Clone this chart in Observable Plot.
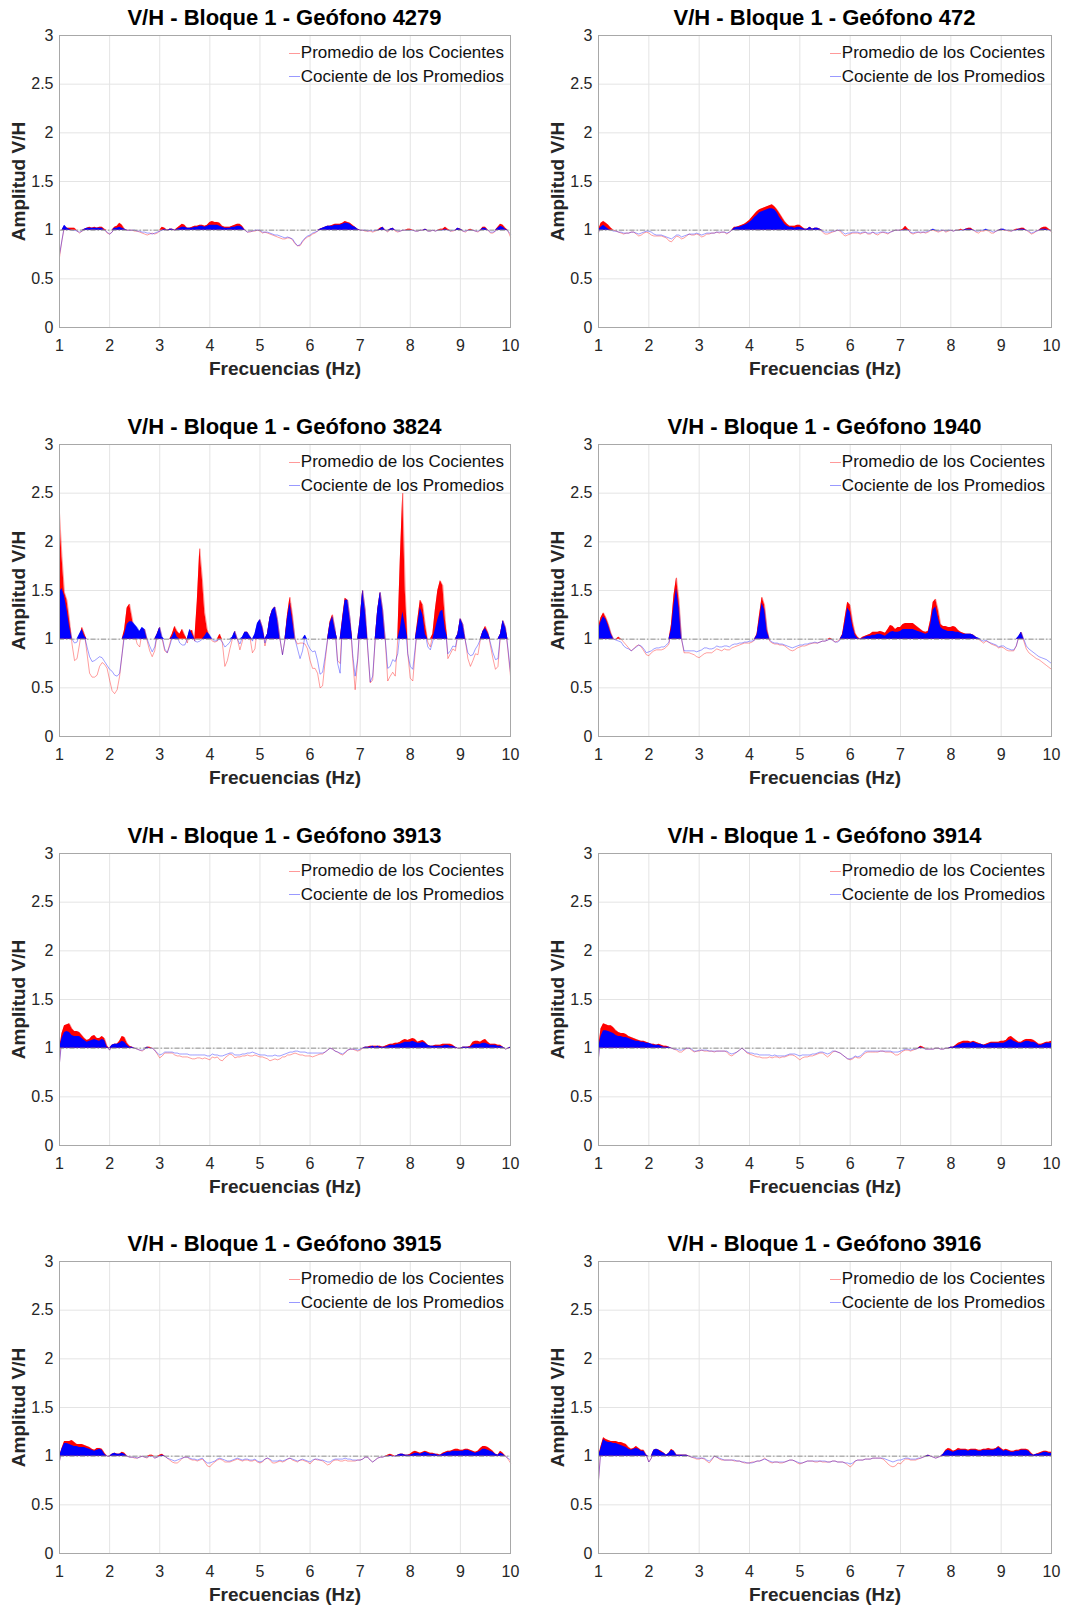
<!DOCTYPE html>
<html><head><meta charset="utf-8">
<script src="https://cdn.jsdelivr.net/npm/d3@7"></script>
<script src="https://cdn.jsdelivr.net/npm/@observablehq/plot@0.6"></script>
<style>
html,body{margin:0;padding:0;background:#fff;}
#root{position:relative;width:1089px;height:1608px;overflow:hidden;font-family:"Liberation Sans",Arial,Helvetica,sans-serif;}
.panel{position:absolute;width:544px;height:390px;}
.panel svg{position:absolute;left:0;top:0;}
.title{position:absolute;top:0;height:35px;line-height:35px;text-align:center;font-weight:bold;font-size:22px;color:#000;white-space:nowrap;}
.legend{position:absolute;font-size:17px;color:#111;}
.legend .row{display:flex;align-items:center;justify-content:flex-end;height:23.5px;line-height:23.5px;white-space:nowrap;}
.legend .sw{display:inline-block;width:11px;height:0;border-top:1.2px solid;margin-right:1px;margin-top:1px;}
</style></head>
<body><div id="root"></div>
<script>
// ---------- labels ----------
const titlePrefix = "V/H - Bloque 1 - Geófono ";
const geophones = ["4279", "472", "3824", "1940", "3913", "3914", "3915", "3916"];
const seriesNames = ["Promedio de los Cocientes", "Cociente de los Promedios"];
const xLabel = "Frecuencias (Hz)";
const yLabel = "Amplitud V/H";
const xTicks = [1, 2, 3, 4, 5, 6, 7, 8, 9, 10];
const yTicks = [0, 0.5, 1, 1.5, 2, 2.5, 3];
const referenceLevel = 1;
// frequency sampling grid: 1 Hz to 10 Hz every 0.05 Hz (181 samples)
const frequencies = d3.range(181).map(i => Math.round((1 + i * 0.05) * 100) / 100);

// ---------- series (values at each frequency) ----------
const promedio4279 = [
0.72,0.90,1.04,1.02,1.02,1.02,1.02,0.99,0.97,0.99,1.01,1.02,1.03,1.02,1.03,1.02,1.03,1.03,1.01,0.97,
0.96,0.98,1.03,1.04,1.07,1.05,1.01,1.00,1.00,1.00,0.99,0.99,0.98,0.97,0.96,0.95,0.96,0.97,0.96,0.97,
0.99,1.03,1.02,1.00,1.01,1.01,1.00,1.02,1.04,1.06,1.05,1.02,1.02,1.03,1.04,1.04,1.05,1.05,1.04,1.05,
1.08,1.09,1.08,1.08,1.07,1.04,1.03,1.03,1.03,1.04,1.05,1.06,1.06,1.04,1.00,0.98,0.98,0.99,0.99,1.00,
0.99,0.97,0.98,0.97,0.96,0.95,0.94,0.93,0.92,0.91,0.91,0.92,0.92,0.90,0.86,0.84,0.84,0.88,0.91,0.93,
0.94,0.96,0.97,0.99,1.01,1.02,1.03,1.04,1.04,1.05,1.06,1.06,1.06,1.07,1.09,1.08,1.07,1.05,1.03,1.01,
1.00,1.00,0.99,0.99,0.99,0.98,0.99,1.00,1.02,1.03,1.00,0.98,1.01,1.02,0.99,0.98,0.99,1.00,1.00,1.01,
1.01,1.00,0.99,0.99,1.00,1.00,1.01,0.99,0.99,1.00,0.99,1.00,1.01,1.01,1.03,1.01,0.99,0.99,1.00,1.02,
1.01,0.99,0.98,1.00,1.01,1.00,0.99,0.98,1.00,1.03,1.03,1.00,0.97,0.97,0.99,1.03,1.06,1.05,1.02,0.99,
0.93];
const cociente4279 = [
0.75,0.90,1.05,1.02,1.01,1.00,1.00,0.99,0.98,0.99,1.01,1.02,1.02,1.02,1.02,1.02,1.02,1.02,1.00,0.98,
0.96,0.98,1.02,1.02,1.03,1.02,1.01,1.00,1.00,1.00,1.00,0.99,0.99,0.98,0.98,0.97,0.97,0.96,0.97,0.98,
0.99,1.00,1.01,1.00,1.01,1.01,1.00,1.01,1.02,1.03,1.03,1.02,1.02,1.02,1.03,1.03,1.04,1.04,1.03,1.04,
1.05,1.05,1.05,1.05,1.04,1.03,1.02,1.02,1.02,1.03,1.03,1.04,1.04,1.03,1.00,0.98,0.99,0.99,1.00,1.00,
1.00,0.98,0.98,0.98,0.97,0.96,0.95,0.95,0.94,0.93,0.92,0.93,0.92,0.91,0.87,0.84,0.85,0.89,0.92,0.94,
0.95,0.97,0.98,0.99,1.01,1.02,1.03,1.04,1.04,1.04,1.05,1.05,1.05,1.06,1.07,1.07,1.06,1.04,1.03,1.01,
1.00,1.00,1.00,0.99,1.00,0.99,1.00,1.00,1.01,1.03,1.00,0.99,1.01,1.02,1.00,0.99,0.99,1.00,1.00,1.00,
1.00,1.00,0.99,0.99,1.00,1.00,1.01,0.99,0.99,1.00,0.99,1.00,1.00,1.00,1.01,1.00,0.99,1.00,1.00,1.02,
1.01,0.99,0.99,1.00,1.00,1.00,0.99,0.99,1.00,1.02,1.02,1.00,0.98,0.98,0.99,1.02,1.04,1.03,1.01,0.99,
0.96];

const promedio472 = [
0.97,1.07,1.09,1.07,1.05,1.02,1.00,0.99,0.98,0.97,0.96,0.97,0.97,0.98,0.98,0.96,0.94,0.95,0.97,0.98,
0.97,0.95,0.94,0.94,0.94,0.94,0.93,0.92,0.89,0.88,0.91,0.94,0.93,0.91,0.92,0.94,0.96,0.95,0.95,0.96,
0.95,0.93,0.94,0.96,0.96,0.97,0.97,0.98,0.97,0.98,0.98,0.96,0.98,1.00,1.03,1.03,1.04,1.05,1.06,1.08,
1.10,1.13,1.16,1.19,1.21,1.22,1.23,1.24,1.25,1.26,1.24,1.21,1.17,1.13,1.09,1.06,1.04,1.04,1.04,1.05,
1.05,1.03,1.01,1.01,1.03,1.01,1.02,1.02,1.01,0.98,0.96,0.96,0.97,0.98,0.99,1.00,0.99,0.96,0.94,0.95,
0.96,0.97,0.97,0.97,0.96,0.97,0.98,0.96,0.96,0.98,0.96,0.95,0.97,0.98,0.97,0.96,0.98,0.99,1.00,1.00,
1.00,1.01,1.04,1.01,0.97,0.96,0.97,0.98,0.97,0.98,0.97,0.98,1.00,1.00,0.99,0.98,0.99,1.00,0.98,0.99,
1.00,0.99,1.00,1.00,1.01,1.00,1.01,1.02,1.02,1.00,0.98,0.97,0.99,0.99,1.00,0.99,0.97,0.97,0.99,1.00,
1.01,1.00,1.00,0.99,0.99,1.00,1.01,1.01,1.02,1.02,1.00,0.98,0.96,0.97,0.99,1.00,1.02,1.03,1.03,1.01,
0.98];
const cociente472 = [
0.98,1.03,1.05,1.03,1.01,1.00,0.99,0.99,0.98,0.98,0.97,0.97,0.97,0.98,0.98,0.97,0.96,0.97,0.98,0.99,
0.99,0.98,0.96,0.95,0.95,0.95,0.94,0.93,0.92,0.91,0.93,0.95,0.95,0.93,0.94,0.95,0.96,0.96,0.96,0.97,
0.96,0.95,0.96,0.97,0.97,0.97,0.97,0.98,0.98,0.98,0.98,0.97,0.98,1.00,1.02,1.03,1.03,1.04,1.05,1.06,
1.08,1.10,1.13,1.15,1.18,1.19,1.20,1.21,1.22,1.22,1.21,1.18,1.13,1.10,1.06,1.04,1.03,1.03,1.02,1.03,
1.03,1.02,1.01,1.01,1.03,1.01,1.02,1.02,1.01,0.99,0.98,0.98,0.98,0.99,0.99,1.00,1.00,0.98,0.96,0.97,
0.97,0.98,0.98,0.98,0.97,0.98,0.98,0.97,0.97,0.98,0.97,0.97,0.98,0.98,0.98,0.97,0.98,0.99,1.00,1.00,
1.00,1.00,1.01,1.00,0.98,0.97,0.98,0.98,0.98,0.98,0.98,0.99,1.00,1.01,1.00,0.99,1.00,1.00,0.99,1.00,
1.00,0.99,1.00,1.00,1.00,1.00,1.01,1.01,1.01,1.00,0.99,0.99,1.00,1.00,1.01,1.00,0.99,0.98,0.99,1.00,
1.01,1.01,1.00,1.00,0.99,1.00,1.00,1.01,1.01,1.01,1.00,0.99,0.97,0.98,0.99,1.00,1.01,1.01,1.01,1.00,
0.99];

const promedio3824 = [
2.30,1.85,1.48,1.40,1.20,0.95,0.78,0.80,0.95,1.12,1.05,0.85,0.65,0.61,0.61,0.63,0.72,0.76,0.74,0.70,
0.58,0.47,0.44,0.48,0.62,0.85,1.10,1.32,1.36,1.22,1.05,0.95,0.92,1.08,1.10,0.98,0.88,0.82,0.88,1.05,
1.12,1.00,0.88,0.86,0.95,1.05,1.13,1.08,1.05,1.10,1.04,0.96,1.08,1.09,0.98,1.39,1.93,1.63,1.27,1.10,
1.02,0.98,0.97,0.98,1.05,0.96,0.72,0.78,0.90,1.00,1.08,1.00,0.89,0.98,1.07,1.07,1.02,0.86,0.90,1.12,
1.20,1.12,0.93,1.05,1.22,1.30,1.33,1.20,1.00,0.84,1.00,1.25,1.43,1.25,1.00,0.95,0.96,0.96,0.95,0.90,
0.78,0.70,0.70,0.65,0.50,0.52,0.77,1.00,1.18,1.25,1.10,0.78,0.75,1.22,1.42,1.40,1.20,0.80,0.48,0.78,
1.20,1.50,1.30,0.90,0.55,0.58,1.00,1.30,1.48,1.30,1.00,0.57,0.62,0.66,0.62,1.00,1.80,2.50,1.50,0.85,
0.60,0.57,0.88,1.20,1.40,1.35,1.15,0.97,0.92,1.05,1.30,1.50,1.60,1.55,1.20,0.80,0.85,0.90,0.88,1.05,
1.21,1.15,0.98,0.80,0.72,0.78,0.85,0.84,1.00,1.08,1.13,1.07,0.93,0.80,0.69,0.72,1.05,1.19,1.12,0.88,
0.62];
const cociente3824 = [
1.48,1.52,1.44,1.30,1.13,1.00,0.96,0.97,1.05,1.10,1.03,0.92,0.82,0.77,0.78,0.80,0.82,0.81,0.77,0.73,
0.69,0.67,0.63,0.62,0.65,0.85,1.05,1.15,1.18,1.18,1.15,1.12,1.08,1.12,1.10,1.00,0.93,0.87,0.92,1.05,
1.12,1.02,0.90,0.86,0.93,1.02,1.08,1.02,0.96,0.94,0.94,1.00,1.10,1.05,0.98,0.97,0.98,1.00,1.03,1.07,
1.04,1.00,0.98,0.99,1.00,0.97,0.92,0.94,0.97,1.02,1.08,1.00,0.95,1.02,1.07,1.07,1.03,0.98,1.05,1.16,
1.20,1.12,0.96,1.05,1.22,1.30,1.33,1.20,1.00,0.84,1.00,1.22,1.37,1.20,1.00,0.90,0.80,0.88,1.04,0.95,
0.90,0.87,0.88,0.78,0.64,0.66,0.82,1.00,1.16,1.23,1.10,0.75,0.65,1.20,1.40,1.40,1.20,0.85,0.62,0.80,
1.20,1.50,1.30,0.92,0.56,0.62,1.00,1.30,1.48,1.30,1.00,0.70,0.72,0.79,0.77,0.85,1.10,1.28,1.15,0.85,
0.72,0.69,0.92,1.15,1.32,1.25,1.05,0.92,0.89,0.98,1.10,1.20,1.28,1.30,1.10,0.85,0.88,0.93,0.92,1.05,
1.21,1.15,0.98,0.86,0.83,0.84,0.90,0.94,1.00,1.08,1.11,1.06,0.96,0.86,0.79,0.80,1.05,1.19,1.12,0.90,
0.66];

const promedio1940 = [
1.12,1.22,1.27,1.22,1.15,1.06,1.00,1.00,1.02,1.00,0.97,0.94,0.91,0.88,0.90,0.93,0.94,0.92,0.88,0.84,
0.83,0.86,0.88,0.89,0.89,0.89,0.90,0.92,0.95,1.15,1.45,1.63,1.40,1.00,0.86,0.86,0.86,0.85,0.84,0.82,
0.81,0.83,0.85,0.86,0.86,0.86,0.88,0.90,0.89,0.88,0.90,0.89,0.89,0.91,0.92,0.93,0.94,0.95,0.96,0.96,
0.96,0.97,0.99,1.05,1.25,1.43,1.35,1.10,0.98,0.96,0.95,0.95,0.94,0.94,0.93,0.91,0.89,0.88,0.89,0.91,
0.92,0.93,0.93,0.94,0.95,0.96,0.96,0.96,0.97,0.98,0.98,0.99,1.01,0.99,0.97,0.98,1.00,1.05,1.22,1.38,
1.35,1.18,1.06,1.02,1.00,1.02,1.03,1.04,1.05,1.07,1.07,1.07,1.08,1.07,1.06,1.10,1.14,1.13,1.10,1.12,
1.12,1.15,1.16,1.16,1.16,1.16,1.14,1.12,1.10,1.08,1.07,1.08,1.20,1.38,1.41,1.30,1.15,1.13,1.13,1.12,
1.12,1.13,1.12,1.09,1.07,1.06,1.05,1.05,1.05,1.04,1.02,1.00,0.98,0.96,0.98,0.97,0.95,0.94,0.93,0.91,
0.92,0.91,0.89,0.88,0.88,0.88,0.93,1.02,1.07,0.98,0.90,0.86,0.84,0.82,0.80,0.79,0.77,0.75,0.73,0.71,
0.69];
const cociente1940 = [
1.10,1.18,1.23,1.20,1.13,1.05,1.00,0.99,0.98,0.97,0.93,0.91,0.90,0.88,0.90,0.92,0.94,0.93,0.90,0.86,
0.87,0.88,0.90,0.91,0.91,0.92,0.92,0.94,0.97,1.10,1.35,1.52,1.32,1.00,0.88,0.88,0.88,0.88,0.88,0.87,
0.88,0.89,0.91,0.91,0.90,0.90,0.91,0.93,0.92,0.92,0.93,0.93,0.92,0.94,0.95,0.95,0.96,0.96,0.97,0.97,
0.98,0.98,0.99,1.04,1.20,1.37,1.30,1.08,0.99,0.97,0.96,0.96,0.95,0.95,0.94,0.93,0.92,0.91,0.92,0.93,
0.94,0.94,0.95,0.95,0.96,0.96,0.97,0.96,0.97,0.98,0.98,0.99,1.00,0.99,0.97,0.97,0.99,1.04,1.17,1.32,
1.28,1.13,1.04,1.01,1.00,1.01,1.02,1.03,1.03,1.04,1.04,1.05,1.05,1.04,1.03,1.05,1.07,1.08,1.07,1.07,
1.08,1.10,1.10,1.10,1.10,1.10,1.09,1.08,1.07,1.06,1.05,1.06,1.15,1.30,1.33,1.22,1.12,1.10,1.09,1.08,
1.08,1.08,1.07,1.07,1.06,1.05,1.05,1.05,1.05,1.04,1.02,1.01,0.99,0.98,0.99,0.97,0.96,0.95,0.94,0.92,
0.93,0.93,0.91,0.90,0.89,0.89,0.93,1.03,1.07,1.00,0.93,0.90,0.88,0.86,0.84,0.82,0.81,0.80,0.79,0.77,
0.75];

const promedio3913 = [
0.85,1.15,1.23,1.24,1.25,1.20,1.17,1.17,1.16,1.13,1.10,1.08,1.09,1.12,1.13,1.10,1.10,1.12,1.10,1.02,
0.98,1.03,1.04,1.04,1.07,1.12,1.11,1.05,1.02,1.01,1.00,0.99,0.98,0.97,0.99,1.01,1.01,1.00,0.98,0.94,
0.90,0.92,0.95,0.95,0.95,0.95,0.93,0.92,0.92,0.91,0.91,0.91,0.90,0.89,0.89,0.90,0.90,0.89,0.90,0.89,
0.88,0.91,0.90,0.91,0.88,0.87,0.90,0.92,0.94,0.93,0.90,0.91,0.91,0.92,0.92,0.93,0.92,0.92,0.93,0.92,
0.91,0.91,0.90,0.89,0.87,0.88,0.89,0.88,0.89,0.91,0.91,0.93,0.93,0.94,0.95,0.94,0.93,0.93,0.92,0.92,
0.92,0.91,0.92,0.93,0.94,0.94,0.96,0.98,1.00,0.99,0.97,0.96,0.94,0.93,0.95,0.98,0.99,0.99,0.98,0.97,
0.98,1.00,1.01,1.01,1.02,1.02,1.02,1.02,1.02,1.01,1.02,1.03,1.04,1.04,1.05,1.05,1.06,1.08,1.09,1.08,
1.09,1.10,1.09,1.06,1.07,1.08,1.06,1.03,1.02,1.02,1.03,1.03,1.03,1.04,1.04,1.04,1.04,1.03,1.01,1.00,
1.00,1.01,1.01,1.01,1.02,1.06,1.07,1.07,1.06,1.08,1.09,1.06,1.04,1.04,1.04,1.03,1.03,1.01,0.99,1.00,
1.01];
const cociente3913 = [
0.85,1.10,1.16,1.17,1.16,1.13,1.12,1.12,1.12,1.10,1.08,1.06,1.07,1.08,1.09,1.08,1.07,1.09,1.08,1.01,
0.98,1.03,1.04,1.04,1.05,1.07,1.06,1.03,1.01,1.01,1.00,0.99,0.98,0.98,0.99,1.01,1.00,1.00,0.98,0.95,
0.93,0.94,0.96,0.96,0.96,0.96,0.95,0.95,0.94,0.94,0.94,0.94,0.93,0.93,0.93,0.93,0.93,0.93,0.93,0.92,
0.92,0.94,0.93,0.93,0.92,0.92,0.93,0.94,0.95,0.95,0.93,0.93,0.93,0.94,0.94,0.95,0.95,0.96,0.95,0.94,
0.93,0.93,0.93,0.92,0.92,0.92,0.93,0.92,0.92,0.93,0.94,0.95,0.96,0.96,0.97,0.97,0.96,0.96,0.96,0.95,
0.95,0.95,0.95,0.95,0.95,0.95,0.96,0.98,1.00,0.99,0.97,0.96,0.95,0.94,0.96,0.98,0.99,0.99,0.99,0.98,
0.99,1.00,1.01,1.01,1.01,1.02,1.01,1.02,1.01,1.01,1.01,1.02,1.03,1.03,1.03,1.04,1.04,1.05,1.06,1.06,
1.06,1.07,1.06,1.05,1.05,1.06,1.05,1.03,1.02,1.02,1.02,1.02,1.02,1.02,1.03,1.03,1.02,1.02,1.01,1.00,
1.00,1.01,1.01,1.01,1.01,1.03,1.04,1.04,1.04,1.05,1.05,1.04,1.03,1.03,1.03,1.02,1.02,1.01,0.99,1.00,
1.01];

const promedio3914 = [
0.90,1.20,1.25,1.24,1.23,1.23,1.21,1.18,1.16,1.15,1.15,1.14,1.12,1.11,1.10,1.09,1.08,1.07,1.07,1.06,
1.05,1.04,1.04,1.03,1.04,1.03,1.02,1.02,1.01,1.00,0.99,0.98,0.96,0.96,0.98,1.00,1.00,0.98,0.96,0.97,
0.97,0.98,0.97,0.97,0.97,0.97,0.96,0.97,0.97,0.97,0.97,0.96,0.93,0.92,0.94,0.96,0.98,1.00,0.98,0.95,
0.94,0.93,0.92,0.91,0.91,0.90,0.90,0.90,0.91,0.90,0.91,0.91,0.90,0.91,0.91,0.92,0.93,0.93,0.92,0.90,
0.88,0.90,0.91,0.91,0.92,0.92,0.93,0.94,0.95,0.95,0.93,0.91,0.93,0.96,0.97,0.96,0.95,0.93,0.91,0.89,
0.88,0.89,0.91,0.90,0.90,0.93,0.95,0.96,0.96,0.96,0.96,0.96,0.97,0.97,0.96,0.96,0.96,0.95,0.93,0.93,
0.95,0.97,0.98,0.98,0.97,0.98,0.99,1.00,1.02,1.01,0.99,0.99,0.99,0.99,1.00,1.00,0.99,0.99,1.00,1.00,
1.01,1.01,1.03,1.05,1.06,1.07,1.07,1.07,1.06,1.07,1.06,1.05,1.04,1.03,1.04,1.05,1.06,1.06,1.06,1.06,
1.07,1.07,1.08,1.11,1.12,1.10,1.08,1.06,1.06,1.08,1.09,1.09,1.09,1.08,1.06,1.04,1.04,1.05,1.06,1.06,
1.07];
const cociente3914 = [
0.90,1.12,1.18,1.18,1.17,1.16,1.15,1.13,1.12,1.12,1.11,1.11,1.10,1.09,1.08,1.07,1.07,1.06,1.06,1.05,
1.05,1.04,1.03,1.03,1.03,1.02,1.01,1.01,1.01,1.00,0.99,0.99,0.98,0.98,0.99,1.00,1.00,0.99,0.97,0.97,
0.98,0.98,0.98,0.98,0.97,0.97,0.97,0.97,0.97,0.97,0.97,0.97,0.95,0.94,0.95,0.96,0.98,1.00,0.98,0.96,
0.95,0.95,0.94,0.94,0.93,0.93,0.93,0.93,0.93,0.92,0.93,0.92,0.92,0.92,0.92,0.93,0.94,0.94,0.94,0.93,
0.92,0.93,0.93,0.93,0.93,0.94,0.94,0.95,0.96,0.96,0.95,0.94,0.95,0.97,0.97,0.96,0.95,0.93,0.91,0.89,
0.89,0.90,0.92,0.91,0.92,0.94,0.97,0.97,0.97,0.97,0.97,0.97,0.97,0.97,0.97,0.97,0.97,0.96,0.96,0.96,
0.97,0.98,0.99,0.99,0.98,0.99,0.99,1.00,1.01,1.00,0.99,0.99,0.99,0.99,1.00,1.00,0.99,0.99,1.00,1.00,
1.01,1.01,1.02,1.03,1.04,1.05,1.05,1.05,1.05,1.06,1.05,1.04,1.04,1.03,1.03,1.04,1.05,1.05,1.05,1.05,
1.05,1.05,1.06,1.08,1.09,1.07,1.06,1.05,1.05,1.06,1.07,1.07,1.06,1.06,1.05,1.03,1.03,1.04,1.05,1.05,
1.05];

const promedio3915 = [
0.95,1.08,1.15,1.15,1.15,1.16,1.14,1.12,1.12,1.12,1.11,1.10,1.09,1.07,1.06,1.08,1.08,1.07,1.03,1.00,
1.00,1.02,1.03,1.02,1.02,1.04,1.03,1.00,0.99,0.99,0.98,0.98,0.99,1.00,0.99,0.98,1.01,1.01,0.98,0.99,
1.01,1.02,1.00,0.98,0.96,0.94,0.93,0.93,0.95,0.98,0.99,0.99,0.97,0.96,0.96,0.95,0.96,0.97,0.94,0.90,
0.89,0.92,0.94,0.96,0.97,0.96,0.94,0.94,0.94,0.95,0.96,0.97,0.96,0.95,0.96,0.96,0.95,0.95,0.96,0.94,
0.93,0.94,0.97,0.98,0.96,0.93,0.93,0.94,0.95,0.94,0.95,0.97,0.98,0.96,0.95,0.94,0.96,0.96,0.95,0.94,
0.92,0.95,0.97,0.96,0.96,0.95,0.93,0.91,0.92,0.95,0.96,0.96,0.95,0.95,0.96,0.95,0.95,0.95,0.95,0.96,
0.96,0.97,0.99,0.99,0.96,0.94,0.96,0.98,0.99,0.99,1.00,1.01,1.02,1.01,1.00,1.01,1.02,1.02,1.01,1.01,
1.02,1.04,1.05,1.04,1.03,1.04,1.05,1.04,1.03,1.03,1.02,1.02,1.01,1.03,1.04,1.05,1.05,1.06,1.07,1.07,
1.06,1.06,1.07,1.07,1.06,1.05,1.04,1.05,1.08,1.10,1.10,1.09,1.07,1.05,1.02,1.01,1.05,1.03,1.00,0.97,
0.93];
const cociente3915 = [
0.95,1.07,1.13,1.13,1.12,1.11,1.10,1.10,1.09,1.09,1.09,1.08,1.07,1.06,1.05,1.06,1.07,1.06,1.02,1.00,
1.00,1.02,1.03,1.02,1.02,1.03,1.02,1.00,0.99,0.99,0.99,0.98,0.99,1.00,0.99,0.99,1.00,1.00,0.98,0.99,
1.00,1.01,1.00,0.98,0.97,0.96,0.95,0.96,0.97,0.98,0.99,0.99,0.98,0.97,0.97,0.96,0.97,0.98,0.95,0.93,
0.93,0.94,0.95,0.97,0.98,0.97,0.96,0.95,0.95,0.96,0.97,0.98,0.97,0.96,0.97,0.97,0.96,0.96,0.97,0.95,
0.94,0.95,0.97,0.98,0.97,0.95,0.95,0.95,0.96,0.95,0.96,0.97,0.98,0.97,0.96,0.95,0.96,0.97,0.96,0.95,
0.94,0.96,0.97,0.97,0.96,0.96,0.95,0.94,0.94,0.96,0.97,0.97,0.97,0.97,0.98,0.97,0.97,0.96,0.96,0.96,
0.96,0.97,0.99,0.99,0.96,0.94,0.96,0.98,0.99,0.99,1.00,1.00,1.01,1.00,1.00,1.01,1.02,1.02,1.01,1.01,
1.01,1.02,1.03,1.03,1.02,1.03,1.04,1.03,1.02,1.02,1.02,1.01,1.01,1.02,1.03,1.04,1.04,1.05,1.05,1.05,
1.05,1.05,1.06,1.06,1.05,1.04,1.03,1.04,1.05,1.07,1.07,1.06,1.05,1.04,1.02,1.01,1.03,1.02,1.00,0.98,
0.96];

const promedio3916 = [
0.75,1.10,1.19,1.17,1.16,1.15,1.15,1.15,1.14,1.14,1.13,1.12,1.09,1.07,1.08,1.10,1.08,1.06,1.06,1.01,
0.94,0.98,1.06,1.07,1.06,1.05,1.03,1.01,1.03,1.07,1.05,1.01,1.01,1.01,1.01,1.01,1.00,0.99,0.98,0.97,
0.97,0.98,0.97,0.95,0.93,0.96,1.00,0.99,0.97,0.96,0.96,0.96,0.96,0.96,0.95,0.95,0.95,0.94,0.93,0.93,
0.93,0.94,0.94,0.95,0.95,0.96,0.98,0.96,0.94,0.93,0.94,0.94,0.93,0.93,0.94,0.95,0.96,0.96,0.95,0.93,
0.92,0.93,0.94,0.95,0.95,0.95,0.94,0.94,0.95,0.94,0.94,0.94,0.94,0.95,0.95,0.94,0.94,0.94,0.93,0.91,
0.89,0.91,0.95,0.96,0.96,0.96,0.97,0.97,0.97,0.98,0.98,0.98,0.98,0.97,0.95,0.92,0.90,0.89,0.90,0.93,
0.92,0.95,0.97,0.97,0.96,0.96,0.96,0.97,0.98,0.99,1.00,1.01,1.00,0.99,0.98,0.99,1.00,1.02,1.06,1.08,
1.07,1.05,1.06,1.08,1.07,1.07,1.07,1.06,1.07,1.07,1.07,1.06,1.06,1.07,1.07,1.08,1.07,1.07,1.08,1.10,
1.08,1.06,1.07,1.06,1.05,1.05,1.06,1.06,1.07,1.07,1.07,1.06,1.03,1.01,1.02,1.03,1.04,1.05,1.05,1.04,
1.04];
const cociente3916 = [
0.75,1.08,1.17,1.15,1.14,1.14,1.13,1.13,1.12,1.11,1.10,1.09,1.07,1.06,1.07,1.08,1.07,1.05,1.05,1.01,
0.94,0.98,1.06,1.07,1.06,1.04,1.03,1.01,1.03,1.06,1.05,1.01,1.01,1.01,1.01,1.01,1.00,0.99,0.99,0.98,
0.98,0.98,0.98,0.96,0.95,0.97,1.00,0.99,0.98,0.97,0.96,0.96,0.96,0.96,0.96,0.95,0.95,0.94,0.94,0.93,
0.93,0.93,0.94,0.95,0.95,0.96,0.97,0.96,0.95,0.94,0.94,0.94,0.94,0.94,0.94,0.95,0.96,0.96,0.95,0.94,
0.93,0.93,0.94,0.95,0.95,0.95,0.95,0.95,0.95,0.95,0.95,0.94,0.94,0.95,0.95,0.94,0.94,0.94,0.93,0.93,
0.92,0.93,0.95,0.96,0.96,0.96,0.97,0.97,0.97,0.98,0.98,0.98,0.98,0.98,0.97,0.96,0.95,0.94,0.95,0.96,
0.96,0.97,0.98,0.98,0.97,0.97,0.97,0.98,0.98,0.99,1.00,1.01,1.00,0.99,0.98,0.99,1.00,1.02,1.05,1.06,
1.05,1.04,1.05,1.06,1.06,1.06,1.06,1.05,1.06,1.06,1.06,1.05,1.05,1.06,1.06,1.06,1.06,1.06,1.07,1.09,
1.07,1.05,1.06,1.05,1.04,1.04,1.05,1.05,1.06,1.06,1.06,1.05,1.02,1.01,1.02,1.02,1.03,1.04,1.04,1.03,
1.03];

const promedios = [promedio4279, promedio472, promedio3824, promedio1940, promedio3913, promedio3914, promedio3915, promedio3916];
const cocientes = [cociente4279, cociente472, cociente3824, cociente1940, cociente3913, cociente3914, cociente3915, cociente3916];

// ---------- styling ----------
const redFill = "#ff0000", blueFill = "#0000ff";
const redLine = "#ff0000", blueLine = "#0000ff";
const lineOpacity = 0.38;
const rowTops = [0, 409, 818, 1226];
const colLefts = [0, 545];
const panelW = 544, panelH = 390;
const margins = [
  {left: 59, right: 34},
  {left: 53, right: 38}
];
const mTop = 35, mBottom = 63;

const root = document.getElementById("root");

geophones.forEach((g, i) => {
  const row = Math.floor(i / 2), col = i % 2;
  const m = margins[col];
  const data = frequencies.map((f, k) => ({f, r: promedios[i][k], b: cocientes[i][k]}));

  const panel = document.createElement("div");
  panel.className = "panel";
  panel.style.left = colLefts[col] + "px";
  panel.style.top = rowTops[row] + "px";

  const chart = Plot.plot({
    width: panelW,
    height: panelH,
    marginLeft: m.left,
    marginRight: m.right,
    marginTop: mTop,
    marginBottom: mBottom,
    style: {fontFamily: '"Liberation Sans", Arial, Helvetica, sans-serif', fontSize: "16px", background: "#fff", overflow: "visible"},
    x: {domain: [xTicks[0], xTicks[xTicks.length - 1]]},
    y: {domain: [yTicks[0], yTicks[yTicks.length - 1]]},
    marks: [
      Plot.gridX(xTicks, {stroke: "#e4e4e4", strokeOpacity: 1}),
      Plot.gridY(yTicks, {stroke: "#e4e4e4", strokeOpacity: 1}),
      Plot.lineY(data, {x: "f", y: "r", stroke: redLine, strokeOpacity: lineOpacity, strokeWidth: 1}),
      Plot.lineY(data, {x: "f", y: "b", stroke: blueLine, strokeOpacity: lineOpacity, strokeWidth: 1}),
      Plot.areaY(data, {x: "f", y1: () => referenceLevel, y2: d => Math.max(d.r, referenceLevel), fill: redFill}),
      Plot.areaY(data, {x: "f", y1: () => referenceLevel, y2: d => Math.max(d.b, referenceLevel), fill: blueFill}),
      Plot.ruleY([referenceLevel], {stroke: "#8a8a8a", strokeWidth: 0.9, strokeDasharray: "5,2,1.5,2"}),
      Plot.axisX(xTicks, {tickSize: 0, tickPadding: 12, fill: "#262626", fontSize: 16, label: null}),
      Plot.axisY(yTicks, {tickSize: 0, tickPadding: 6, fill: "#262626", fontSize: 16, label: null, tickFormat: d => String(d)}),
      Plot.frame({stroke: "#a8a8a8", strokeWidth: 1}),
      Plot.text([xLabel], {text: d => d, frameAnchor: "bottom", dy: 41, lineAnchor: "middle", textAnchor: "middle", fontSize: 19, fontWeight: "bold", fill: "#262626"}),
      Plot.text([yLabel], {text: d => d, frameAnchor: "left", dx: -41, rotate: -90, lineAnchor: "middle", textAnchor: "middle", fontSize: 19, fontWeight: "bold", fill: "#262626"})
    ]
  });
  panel.appendChild(chart);

  const title = document.createElement("div");
  title.className = "title";
  title.style.left = m.left + "px";
  title.style.width = (panelW - m.left - m.right) + "px";
  title.textContent = titlePrefix + g;
  panel.appendChild(title);

  const legend = document.createElement("div");
  legend.className = "legend";
  legend.style.right = (m.right + 6) + "px";
  legend.style.top = (mTop + 6) + "px";
  [[seriesNames[0], "rgba(255,0,0,0.4)"], [seriesNames[1], "rgba(0,0,255,0.4)"]].forEach(([name, c]) => {
    const rowEl = document.createElement("div");
    rowEl.className = "row";
    const sw = document.createElement("span");
    sw.className = "sw";
    sw.style.borderTopColor = c;
    const tx = document.createElement("span");
    tx.textContent = name;
    rowEl.appendChild(sw);
    rowEl.appendChild(tx);
    legend.appendChild(rowEl);
  });
  panel.appendChild(legend);

  root.appendChild(panel);
});
</script>
</body></html>
